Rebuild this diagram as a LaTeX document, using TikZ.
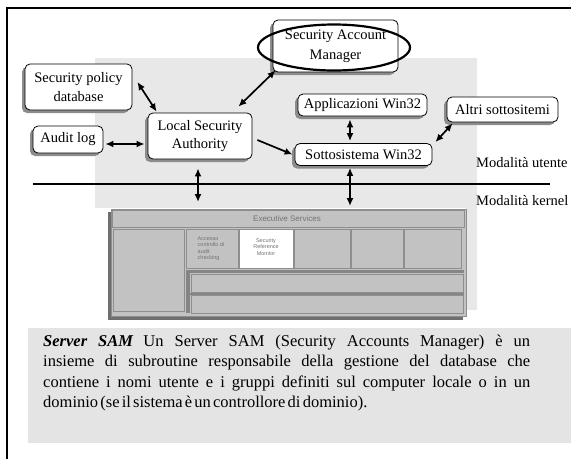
\documentclass[tikz,border=0pt]{standalone}
\usepackage{fontspec}
\setmainfont{Liberation Serif}
\setsansfont{Liberation Sans}
\usetikzlibrary{arrows.meta,shadows}

\definecolor{bgzone}{HTML}{E8E8E8}
\definecolor{notebg}{HTML}{E4E4E4}
\definecolor{kfill}{HTML}{C2C2C2}
\definecolor{kline}{HTML}{8E8E8E}
\definecolor{kdark}{HTML}{6F6F6F}

\begin{document}
\begin{tikzpicture}[x=1pt,y=-1pt,
  box/.style={draw=black, line width=0.8pt, rounded corners=5pt, fill=white,
    align=center, inner sep=0pt,
    font=\fontsize{14.5}{18.5}\selectfont,
    drop shadow={shadow xshift=-3pt, shadow yshift=-3pt, fill=black!45, opacity=1}},
  lbl/.style={inner sep=0pt, font=\fontsize{14.5}{17}\selectfont},
  dbl/.style={line width=1.7pt, {Latex[length=8pt,width=7pt]}-{Latex[length=8pt,width=7pt]}},
  one/.style={line width=1.7pt, -{Latex[length=8pt,width=7pt]}},
  kcell/.style={draw=kline, line width=0.7pt, fill=kfill},
  ktext/.style={font=\sffamily\fontsize{5.5}{6.5}\selectfont, text=black!55, align=center, inner sep=0pt}
]
\useasboundingbox (0,0) rectangle (571,459);

% user-mode backdrop
\fill[bgzone] (95,58) rectangle (477,208);
\fill[bgzone] (466,208) rectangle (477,310);

% kernel-mode block
\fill[kdark] (108,212) rectangle (463,320);
\draw[kcell] (111,209) rectangle (466,316);
\draw[kcell] (112,210) rectangle (464,227);
\node[ktext, font=\sffamily\fontsize{8}{9}\selectfont] (exec) at (287,218.5) {Executive Services};
\draw[kcell] (113,229) rectangle (184,311);
\draw[kcell] (186,229) rectangle (238,268);
\node[ktext, align=left] (acc) at (211,248.5) {Accesso\\controllo di\\audit\\checking};
\draw[draw=kline, line width=0.7pt, fill=white] (239,229) rectangle (293,268);
\node[ktext] (srm) at (266,247) {Security\\Reference\\Monitor};
\draw[kcell] (294,229) rectangle (350,268);
\draw[kcell] (351,229) rectangle (403,268);
\draw[kcell] (404,229) rectangle (461,268);
\fill[kdark!85] (186,270) rectangle (190,313);
\fill[kdark!85] (186,270) rectangle (464,272.5);
\draw[kcell] (191,274) rectangle (463,292);
\fill[kdark!85] (190,292.5) rectangle (464,295);
\draw[kcell] (191,295.5) rectangle (463,313);

% nodes
\node[box, minimum width=107pt, minimum height=46pt] (spd) at (78.5,87) {Security policy\\database};
\node[box, minimum width=70pt, minimum height=27pt] (audit) at (68,139.5) {Audit log};
\node[box, minimum width=104pt, minimum height=46pt] (lsa) at (200,136) {Local Security\\Authority};
\node[box, minimum width=125pt, minimum height=52pt, font=\fontsize{14.5}{20}\selectfont] (sam) at (335.5,46) {Security Account\\Manager};
\node[box, minimum width=129pt, minimum height=22pt] (app) at (362.5,105) {Applicazioni Win32};
\node[box, minimum width=111pt, minimum height=25pt] (altri) at (502.5,109.5) {Altri sottositemi};
\node[box, minimum width=137pt, minimum height=22pt] (sott) at (363.5,154.5) {Sottosistema Win32};

% highlight ring around the SAM
\draw[line width=2.2pt] (334,47.5) ellipse [x radius=76, y radius=23];

% user / kernel boundary
\draw[line width=2pt] (33,184) -- (550,184);
\node[lbl, anchor=west] (mu) at (476,163) {Modalità utente};
\node[lbl, anchor=west] (mk) at (476,201) {Modalità kernel};

% connectors
\coordinate (k1) at (198,202);
\coordinate (k2) at (350,206);
\draw[dbl] ([shift={(5,-5)}]spd.east) -- ([shift={(9,-1)}]lsa.north west);
\draw[dbl] ([shift={(2,4.5)}]audit.east) -- ([shift={(-3,8)}]lsa.west);
\draw[dbl] ([shift={(-14,-6)}]lsa.north east) -- ([shift={(3,-2)}]sam.south west);
\draw[one] ([shift={(5,4)}]lsa.east) -- ([shift={(-2,0)}]sott.west);
\draw[dbl] ([shift={(-12.5,3)}]app.south) -- ([shift={(-13.5,-2)}]sott.north);
\draw[dbl] ([shift={(3,-1)}]sott.north east) -- ([shift={(6,1)}]altri.south west);
\draw[dbl] ([shift={(-2,9)}]lsa.south) -- (k1);
\draw[dbl] ([shift={(-13.5,2)}]sott.south) -- (k2);

% note box
\fill[notebg] (28,328) rectangle (571,443);
\node[anchor=north west, inner sep=0pt, text width=487pt, align=justify,
      font=\fontsize{16.5}{20.5}\selectfont] (note) at (43,334.5)
  {\textbf{\textit{Server SAM}}\hspace{10pt}Un Server SAM (Security Accounts Manager) è un\linebreak
   insieme di subroutine responsabile della gestione del database che\linebreak
   contiene i nomi utente e i gruppi definiti sul computer locale o in un\linebreak
   {\spaceskip=2.2pt plus 1pt\relax dominio (se il sistema è un controllore di dominio).}};

% frame
\draw[line width=2pt] (7,459) -- (7,8) -- (571,8);
\end{tikzpicture}
\end{document}
